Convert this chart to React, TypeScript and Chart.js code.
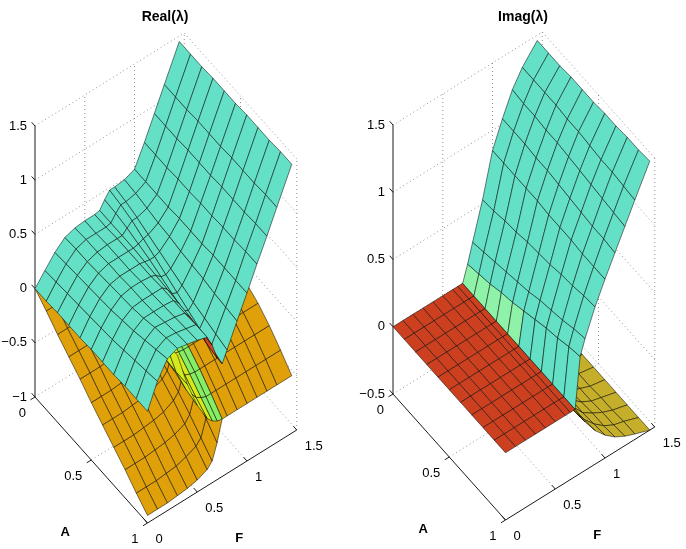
import { useEffect, useRef } from 'react';
import { Chart, registerables } from 'chart.js';

Chart.register(...registerables);

const _ = null;

// sample grid of the surfaces: A down the rows, F along the columns
const aValues = [0, 0.1, 0.2, 0.3, 0.4, 0.5, 0.6, 0.7, 0.8, 0.9, 1];
const fValues = [0, 0.1, 0.2, 0.3, 0.4, 0.5, 0.6, 0.65, 0.7, 0.75, 0.8, 0.9, 1, 1.1, 1.2, 1.3, 1.45];

// Real(λ), upper branch (hump, ridge and the rising plane)
const realUpper = [
  [0.00, 0.11, 0.22, 0.30, 0.33, 0.34, 0.34, 0.35, 0.42, 0.48, 0.48, 0.49, 0.53, 0.72, 0.93, 1.14, 1.45],
  [0.00, 0.12, 0.23, 0.31, 0.34, 0.34, 0.34, 0.35, 0.41, 0.46, 0.46, 0.48, 0.53, 0.72, 0.93, 1.14, 1.45],
  [0.01, 0.13, 0.24, 0.31, 0.34, 0.35, 0.35, 0.35, 0.39, 0.43, 0.43, 0.46, 0.53, 0.72, 0.93, 1.14, 1.45],
  [0.01, 0.14, 0.25, 0.32, 0.35, 0.35, 0.35, 0.35, 0.36, 0.38, 0.39, 0.44, 0.53, 0.73, 0.94, 1.15, 1.46],
  [0.01, 0.15, 0.26, 0.33, 0.35, 0.35, 0.35, 0.34, 0.33, 0.33, 0.35, 0.43, 0.54, 0.73, 0.94, 1.15, 1.46],
  [0.02, 0.16, 0.27, 0.34, 0.36, 0.36, 0.35, 0.33, 0.29, 0.28, 0.31, 0.41, 0.54, 0.74, 0.94, 1.15, 1.46],
  [0.02, 0.17, 0.29, 0.35, 0.36, 0.36, 0.36, 0.32, 0.25, 0.23, 0.27, 0.40, 0.54, 0.74, 0.95, 1.16, 1.47],
  [0.02, 0.19, 0.31, 0.37, 0.37, 0.37, 0.36, 0.31, 0.21, 0.18, 0.23, 0.39, 0.55, 0.75, 0.95, 1.16, 1.47],
  [0.03, 0.21, 0.34, 0.40, 0.39, 0.38, 0.36, 0.30, 0.18, 0.13, 0.20, 0.37, 0.55, 0.75, 0.95, 1.16, 1.47],
  [0.03, 0.23, 0.37, 0.42, 0.41, 0.39, 0.37, 0.28, 0.15, 0.08, 0.17, 0.36, 0.55, 0.76, 0.96, 1.17, 1.48],
  [0.03, 0.25, 0.40, 0.44, 0.42, 0.40, 0.37, 0.27, 0.12, 0.04, 0.14, 0.35, 0.55, 0.76, 0.96, 1.17, 1.48],
];

// Real(λ), middle branch (drops from the hump to the merge point)
const realMiddle = [
  [_, _, _, 0.27, 0.20, 0.06, 0.00, 0.00, 0.00, 0.00, _, _, _, _, _, _, _],
  [_, _, _, 0.28, 0.20, 0.06, 0.00, 0.00, 0.00, 0.00, _, _, _, _, _, _, _],
  [_, _, _, 0.28, 0.19, 0.05, -0.01, -0.01, -0.01, -0.01, _, _, _, _, _, _, _],
  [_, _, _, 0.29, 0.18, 0.04, -0.01, -0.02, -0.02, -0.02, _, _, _, _, _, _, _],
  [_, _, _, 0.30, 0.16, 0.02, -0.02, -0.03, -0.03, -0.03, _, _, _, _, _, _, _],
  [_, _, _, 0.31, 0.13, -0.01, -0.04, -0.05, -0.06, -0.06, _, _, _, _, _, _, _],
  [_, _, _, 0.32, 0.10, -0.05, -0.08, -0.09, -0.09, -0.09, _, _, _, _, _, _, _],
  [_, _, _, 0.33, 0.08, -0.08, -0.13, -0.14, -0.15, -0.15, _, _, _, _, _, _, _],
  [_, _, _, 0.34, 0.06, -0.12, -0.21, -0.23, -0.24, -0.24, _, _, _, _, _, _, _],
  [_, _, _, 0.36, 0.05, -0.17, -0.30, -0.33, -0.35, -0.35, _, _, _, _, _, _, _],
  [_, _, _, 0.38, 0.05, -0.20, -0.38, -0.43, -0.46, -0.47, _, _, _, _, _, _, _],
];

// Real(λ), lower branch, then the shared real part of the complex pair
const realLower = [
  [0.00, 0.00, 0.00, 0.00, 0.00, 0.00, 0.00, 0.00, 0.00, 0.00, 0.00, 0.00, 0.00, 0.00, 0.00, 0.00, 0.00],
  [-0.09, -0.09, -0.09, -0.09, -0.09, -0.08, -0.08, -0.07, -0.04, 0.00, 0.00, 0.00, 0.00, 0.00, 0.00, 0.00, 0.00],
  [-0.19, -0.19, -0.19, -0.18, -0.18, -0.17, -0.16, -0.14, -0.08, -0.01, -0.01, -0.01, -0.01, -0.01, -0.01, -0.01, -0.01],
  [-0.28, -0.28, -0.28, -0.27, -0.27, -0.26, -0.23, -0.21, -0.13, -0.02, -0.02, -0.02, -0.02, -0.02, -0.02, -0.02, -0.02],
  [-0.37, -0.37, -0.37, -0.36, -0.36, -0.34, -0.31, -0.28, -0.17, -0.03, -0.03, -0.03, -0.03, -0.03, -0.03, -0.03, -0.03],
  [-0.47, -0.47, -0.47, -0.46, -0.45, -0.43, -0.39, -0.35, -0.23, -0.06, -0.06, -0.06, -0.06, -0.06, -0.06, -0.06, -0.06],
  [-0.56, -0.56, -0.56, -0.55, -0.54, -0.52, -0.48, -0.43, -0.28, -0.09, -0.09, -0.09, -0.09, -0.09, -0.09, -0.09, -0.09],
  [-0.65, -0.65, -0.65, -0.64, -0.63, -0.61, -0.56, -0.51, -0.36, -0.15, -0.15, -0.15, -0.15, -0.15, -0.15, -0.15, -0.15],
  [-0.74, -0.74, -0.74, -0.73, -0.72, -0.70, -0.66, -0.60, -0.45, -0.24, -0.24, -0.24, -0.24, -0.24, -0.24, -0.24, -0.24],
  [-0.84, -0.84, -0.84, -0.83, -0.82, -0.79, -0.75, -0.70, -0.55, -0.35, -0.35, -0.35, -0.35, -0.35, -0.35, -0.35, -0.35],
  [-0.93, -0.93, -0.93, -0.92, -0.91, -0.89, -0.85, -0.80, -0.66, -0.47, -0.47, -0.47, -0.47, -0.47, -0.47, -0.47, -0.47],
];

// Imag(λ) = 0 while all roots are real
const imagZero = [
  [0, 0, 0, 0, 0, 0, 0, 0, 0, _, _, _, _, _, _, _, _],
  [0, 0, 0, 0, 0, 0, 0, 0, 0, _, _, _, _, _, _, _, _],
  [0, 0, 0, 0, 0, 0, 0, 0, 0, _, _, _, _, _, _, _, _],
  [0, 0, 0, 0, 0, 0, 0, 0, 0, _, _, _, _, _, _, _, _],
  [0, 0, 0, 0, 0, 0, 0, 0, 0, _, _, _, _, _, _, _, _],
  [0, 0, 0, 0, 0, 0, 0, 0, 0, _, _, _, _, _, _, _, _],
  [0, 0, 0, 0, 0, 0, 0, 0, 0, _, _, _, _, _, _, _, _],
  [0, 0, 0, 0, 0, 0, 0, 0, 0, _, _, _, _, _, _, _, _],
  [0, 0, 0, 0, 0, 0, 0, 0, 0, _, _, _, _, _, _, _, _],
  [0, 0, 0, 0, 0, 0, 0, 0, 0, _, _, _, _, _, _, _, _],
  [0, 0, 0, 0, 0, 0, 0, 0, 0, _, _, _, _, _, _, _, _],
];

// Imag(λ), positive branch after the merge
const imagUpper = [
  [_, _, _, _, _, _, _, _, 0, 0.12, 0.26, 0.53, 0.85, 1.04, 1.21, 1.33, 1.46],
  [_, _, _, _, _, _, _, _, 0, 0.14, 0.28, 0.54, 0.85, 1.04, 1.20, 1.33, 1.46],
  [_, _, _, _, _, _, _, _, 0, 0.16, 0.30, 0.56, 0.85, 1.04, 1.20, 1.33, 1.46],
  [_, _, _, _, _, _, _, _, 0, 0.19, 0.32, 0.57, 0.85, 1.03, 1.19, 1.33, 1.47],
  [_, _, _, _, _, _, _, _, 0, 0.21, 0.34, 0.59, 0.85, 1.03, 1.19, 1.32, 1.47],
  [_, _, _, _, _, _, _, _, 0, 0.24, 0.36, 0.60, 0.84, 1.02, 1.18, 1.32, 1.47],
  [_, _, _, _, _, _, _, _, 0, 0.27, 0.39, 0.61, 0.84, 1.01, 1.17, 1.31, 1.48],
  [_, _, _, _, _, _, _, _, 0, 0.30, 0.41, 0.63, 0.84, 1.00, 1.16, 1.30, 1.48],
  [_, _, _, _, _, _, _, _, 0, 0.32, 0.43, 0.64, 0.83, 0.99, 1.15, 1.30, 1.49],
  [_, _, _, _, _, _, _, _, 0, 0.35, 0.46, 0.66, 0.83, 0.99, 1.14, 1.29, 1.49],
  [_, _, _, _, _, _, _, _, 0, 0.37, 0.48, 0.67, 0.83, 0.98, 1.13, 1.28, 1.50],
];

// Imag(λ), negative branch (cut at the lower z limit)
const imagLower = [
  [_, _, _, _, _, _, _, _, 0, -0.11, -0.19, -0.31, -0.40, -0.45, -0.48, -0.49, -0.50],
  [_, _, _, _, _, _, _, _, 0, -0.11, -0.19, -0.30, -0.39, -0.45, -0.48, -0.49, -0.50],
  [_, _, _, _, _, _, _, _, 0, -0.10, -0.18, -0.30, -0.39, -0.44, -0.47, -0.49, -0.50],
  [_, _, _, _, _, _, _, _, 0, -0.10, -0.18, -0.29, -0.38, -0.44, -0.47, -0.49, -0.50],
  [_, _, _, _, _, _, _, _, 0, -0.10, -0.17, -0.29, -0.37, -0.43, -0.46, -0.48, -0.50],
  [_, _, _, _, _, _, _, _, 0, -0.09, -0.17, -0.28, -0.37, -0.42, -0.46, -0.48, -0.50],
  [_, _, _, _, _, _, _, _, 0, -0.09, -0.16, -0.28, -0.36, -0.42, -0.45, -0.48, -0.50],
  [_, _, _, _, _, _, _, _, 0, -0.09, -0.16, -0.27, -0.35, -0.41, -0.45, -0.47, -0.50],
  [_, _, _, _, _, _, _, _, 0, -0.09, -0.15, -0.26, -0.35, -0.40, -0.44, -0.47, -0.50],
  [_, _, _, _, _, _, _, _, 0, -0.08, -0.15, -0.26, -0.34, -0.40, -0.44, -0.46, -0.50],
  [_, _, _, _, _, _, _, _, 0, -0.08, -0.14, -0.25, -0.33, -0.39, -0.43, -0.46, -0.50],
];

const realZTicks = [-1, -0.5, 0, 0.5, 1, 1.5];
const imagZTicks = [-0.5, 0, 0.5, 1, 1.5];
const aTicks = [0, 0.5, 1];
const fTicks = [0, 0.5, 1, 1.5];

type Grid = (number | null)[][];
type P3 = [number, number, number];

interface Sheet {
  z: Grid;
  color: (i: number, j: number, z: Grid) => string;
}

interface Panel {
  title: string;
  titleX: number;
  ox: number;
  oy: number;
  zMin: number;
  zMax: number;
  zPx: number;
  zTicks: number[];
  sheets: Sheet[];
}

const W = 343;
const H = 549;
// screen offset of one unit along A and along F (view of the 3-D box)
const A_STEP = [112.5, 126];
const F_STEP = [99.5, -62];

const CYAN = '#64e0c6';
const ORANGE = '#dfa00a';
const RED = '#d8481e';
const DARK_RED = '#cc4020';
const YELLOW = '#d4ea1c';
const GREEN = '#86ee66';
const MINT = '#8ef2a8';
const OLIVE = '#c4ae2a';

const falling = (i: number, j: number, z: Grid) =>
  ((z[i][j + 1] as number) - (z[i][j] as number) + (z[i + 1][j + 1] as number) - (z[i + 1][j] as number)) / 2 < -0.04;

const panels: Panel[] = [
  {
    title: 'Real(\u03bb)',
    titleX: 165,
    ox: 35,
    oy: 397,
    zMin: -1,
    zMax: 1.5,
    zPx: 108.4,
    zTicks: realZTicks,
    sheets: [
      { z: realLower, color: () => ORANGE },
      { z: realMiddle, color: (_i, j) => (j >= 7 ? GREEN : YELLOW) },
      { z: realUpper, color: (i, j, z) => (i >= 8 && falling(i, j, z) ? RED : CYAN) },
    ],
  },
  {
    title: 'Imag(\u03bb)',
    titleX: 180,
    ox: 50,
    oy: 394,
    zMin: -0.5,
    zMax: 1.5,
    zPx: 134.5,
    zTicks: imagZTicks,
    sheets: [
      { z: imagLower, color: () => OLIVE },
      { z: imagZero, color: () => DARK_RED },
      { z: imagUpper, color: (i, j) => (j === 8 && i < 5 ? MINT : CYAN) },
    ],
  },
];

const fmt = (v: number) => (v < 0 ? '\u2212' + Math.abs(v) : String(v));
const FONT = '"Liberation Sans", Arial, Helvetica, sans-serif';

function surfacePlugin(panel: Panel) {
  return {
    id: 'surface3d',
    afterDatasetsDraw(chart: Chart) {
      const { ctx } = chart;
      const xs = chart.scales.x;
      const ys = chart.scales.y;
      const { zMin, zMax } = panel;
      const aMax = aTicks[aTicks.length - 1];
      const fMax = fTicks[fTicks.length - 1];

      const project = (a: number, f: number, z: number): [number, number] => [
        xs.getPixelForValue(panel.ox + a * A_STEP[0] + f * F_STEP[0]),
        ys.getPixelForValue(panel.oy + a * A_STEP[1] + f * F_STEP[1] - (z - zMin) * panel.zPx),
      ];
      const depth = (a: number, f: number, z: number) =>
        150 * a - 74.7 * f + (750 * (z - zMin)) / (zMax - zMin);
      const seg = (p: P3, q: P3) => {
        const s = project(...p);
        const e = project(...q);
        ctx.beginPath();
        ctx.moveTo(s[0], s[1]);
        ctx.lineTo(e[0], e[1]);
        ctx.stroke();
      };

      ctx.save();

      // dotted grid on the two back walls and the floor
      ctx.strokeStyle = 'rgba(120,120,120,0.8)';
      ctx.lineWidth = 1;
      ctx.setLineDash([1, 3]);
      panel.zTicks.forEach((z) => {
        seg([0, 0, z], [0, fMax, z]);
        seg([0, fMax, z], [aMax, fMax, z]);
      });
      fTicks.forEach((f) => {
        if (f > 0) seg([0, f, zMin], [0, f, zMax]);
        if (f > 0 && f < fMax) seg([0, f, zMin], [aMax, f, zMin]);
      });
      aTicks.forEach((a) => {
        if (a > 0) seg([a, fMax, zMin], [a, fMax, zMax]);
        if (a > 0 && a < aMax) seg([a, 0, zMin], [a, fMax, zMin]);
      });

      // solid axes and ticks
      ctx.setLineDash([]);
      ctx.strokeStyle = '#1a1a1a';
      seg([0, 0, zMin], [0, 0, zMax]);
      seg([0, 0, zMin], [aMax, 0, zMin]);
      seg([aMax, 0, zMin], [aMax, fMax, zMin]);
      panel.zTicks.forEach((z) => seg([0, 0, z], [-0.03, 0, z]));
      aTicks.forEach((a) => seg([a, 0, zMin], [a, -0.045, zMin]));
      fTicks.forEach((f) => seg([aMax, f, zMin], [aMax - 0.03, f, zMin]));

      // tick labels
      ctx.fillStyle = '#000';
      ctx.font = `13px ${FONT}`;
      ctx.textBaseline = 'middle';
      ctx.textAlign = 'right';
      panel.zTicks.forEach((z) => {
        const [x, y] = project(0, 0, z);
        ctx.fillText(fmt(z), x - 8, y);
      });
      aTicks.forEach((a) => {
        const [x, y] = project(a, 0, zMin);
        ctx.fillText(fmt(a), x - 9, y + 16);
      });
      ctx.textAlign = 'left';
      fTicks.forEach((f) => {
        const [x, y] = project(aMax, f, zMin);
        ctx.fillText(fmt(f), x + 8, y + 16);
      });

      // axis names and title
      ctx.font = `bold 13px ${FONT}`;
      ctx.textAlign = 'center';
      const [ax, ay] = project(aMax / 2, 0, zMin);
      ctx.fillText('A', ax - 26, ay + 72);
      const [fx, fy] = project(aMax, fMax / 2, zMin);
      ctx.fillText('F', fx + 17, fy + 62);
      ctx.font = `bold 14px ${FONT}`;
      ctx.fillText(panel.title, panel.titleX, 17);

      // surface cells, far ones first
      const cells: { pts: P3[]; d: number; color: string }[] = [];
      panel.sheets.forEach((sheet) => {
        const z = sheet.z;
        for (let i = 0; i < aValues.length - 1; i++) {
          for (let j = 0; j < fValues.length - 1; j++) {
            const z00 = z[i][j];
            const z01 = z[i][j + 1];
            const z10 = z[i + 1][j];
            const z11 = z[i + 1][j + 1];
            if (z00 === null || z01 === null || z10 === null || z11 === null) continue;
            const a0 = aValues[i];
            const a1 = aValues[i + 1];
            const f0 = fValues[j];
            const f1 = fValues[j + 1];
            const pts: P3[] = [
              [a0, f0, z00],
              [a0, f1, z01],
              [a1, f1, z11],
              [a1, f0, z10],
            ];
            const d = pts.reduce((s, p) => s + depth(...p), 0) / 4;
            cells.push({ pts, d, color: sheet.color(i, j, z) });
          }
        }
      });
      cells.sort((p, q) => p.d - q.d);

      ctx.lineWidth = 0.6;
      ctx.lineJoin = 'round';
      ctx.strokeStyle = 'rgba(0,0,0,0.85)';
      cells.forEach((c) => {
        ctx.beginPath();
        c.pts.forEach((p, k) => {
          const [x, y] = project(...p);
          if (k === 0) ctx.moveTo(x, y);
          else ctx.lineTo(x, y);
        });
        ctx.closePath();
        ctx.fillStyle = c.color;
        ctx.fill();
        ctx.stroke();
      });

      ctx.restore();
    },
  };
}

function SurfacePanel({ panel }: { panel: Panel }) {
  const canvasRef = useRef<HTMLCanvasElement>(null);

  useEffect(() => {
    if (!canvasRef.current) return;
    const chart = new Chart(canvasRef.current, {
      type: 'scatter',
      data: { datasets: [{ data: [], pointRadius: 0 }] },
      options: {
        animation: false,
        responsive: false,
        maintainAspectRatio: false,
        layout: { padding: 0 },
        events: [],
        plugins: {
          legend: { display: false },
          tooltip: { enabled: false },
          title: { display: false },
        },
        scales: {
          x: { type: 'linear', min: 0, max: W, display: false },
          y: { type: 'linear', min: 0, max: H, reverse: true, display: false },
        },
      },
      plugins: [surfacePlugin(panel)],
    });
    return () => chart.destroy();
  }, [panel]);

  return <canvas ref={canvasRef} width={W} height={H} style={{ display: 'block', width: W, height: H }} />;
}

export default function App() {
  return (
    <div style={{ position: 'absolute', left: 0, top: 0, width: 686, height: 549, display: 'flex', background: '#fff' }}>
      {panels.map((p) => (
        <SurfacePanel key={p.title} panel={p} />
      ))}
    </div>
  );
}
